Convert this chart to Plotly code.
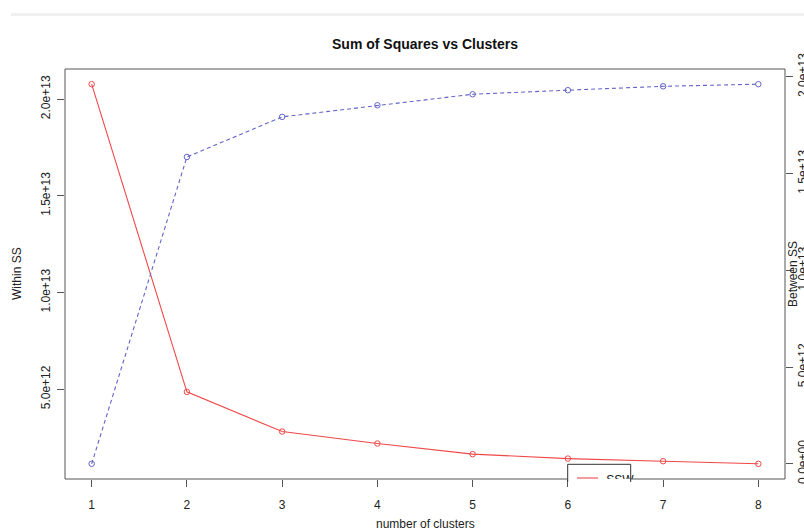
import plotly.graph_objects as go

# ---- data ----
clusters = [1, 2, 3, 4, 5, 6, 7, 8]
ssw = [2.077e13, 4.86e12, 2.81e12, 2.19e12, 1.64e12, 1.41e12, 1.275e12, 1.14e12]
ssb = [0.0, 1.586e13, 1.793e13, 1.853e13, 1.910e13, 1.931e13, 1.951e13, 1.962e13]
left_tickvals = [5e12, 1e13, 1.5e13, 2e13]
left_ticktext = ["5.0e+12", "1.0e+13", "1.5e+13", "2.0e+13"]
right_tickvals = [0, 5e12, 1e13, 1.5e13, 2e13]
right_ticktext = ["0.0e+00", "5.0e+12", "1.0e+13", "1.5e+13", "2.0e+13"]
title = "Sum of Squares vs Clusters"
xlab = "number of clusters"
ylab = "Within SS"
y2lab = "Between SS"
legend_label = "SSW"

# ---- layout geometry ----
W, H = 804, 531
L, R, T, B = 65, 19, 69, 52
PW, PH = W - L - R, H - T - B


def pad_range(vals, f=0.04):
    lo, hi = min(vals), max(vals)
    d = hi - lo
    return [lo - f * d, hi + f * d]


xr = pad_range(clusters)
yr = pad_range(ssw)
y2r = pad_range(ssb)


def px_x(px):  # pixel -> paper x
    return (px - L) / PW


def px_y(py):  # pixel -> paper y
    return (H - B - py) / PH


def data_x(px):
    return xr[0] + (px - L) / PW * (xr[1] - xr[0])


def data_y(py):
    return yr[1] - (py - T) / PH * (yr[1] - yr[0])


RED = "#f04848"
BLUE = "#6464c8"
FRAME = "#555555"
TXT = "#222222"
FONT = "Liberation Sans, Arial, sans-serif"

fig = go.Figure()
fig.add_trace(go.Scatter(
    x=clusters, y=ssw, mode="lines+markers",
    line=dict(color=RED, width=1.1),
    marker=dict(symbol="circle-open", size=5.5, color=RED, line=dict(width=1)),
    showlegend=False, yaxis="y"))
fig.add_trace(go.Scatter(
    x=clusters, y=ssb, mode="lines+markers",
    line=dict(color=BLUE, width=1.1, dash="4px,3px"),
    marker=dict(symbol="circle-open", size=5.5, color=BLUE, line=dict(width=1)),
    showlegend=False, yaxis="y2"))
# legend text (clipped by the plot region as in the original)
fig.add_trace(go.Scatter(
    x=[data_x(620)], y=[data_y(480.5)], mode="text", text=[legend_label],
    textfont=dict(family=FONT, size=12, color=TXT), cliponaxis=True,
    showlegend=False, hoverinfo="skip", yaxis="y"))

axis_common = dict(showgrid=False, zeroline=False, showline=False,
                   ticks="outside", ticklen=7, tickcolor=FRAME, tickwidth=1,
                   tickfont=dict(family=FONT, size=12, color=TXT), automargin=False)

fig.update_layout(
    width=W, height=H,
    margin=dict(l=L, r=R, t=T, b=B, pad=0),
    paper_bgcolor="white", plot_bgcolor="white",
    showlegend=False,
    xaxis=dict(range=xr, tickmode="array", tickvals=clusters,
               ticktext=[str(c) for c in clusters], ticklabelstandoff=8, **axis_common),
    yaxis=dict(range=yr, tickmode="array", tickvals=left_tickvals,
               ticktext=left_ticktext, tickangle=-90, ticklabelstandoff=2, **axis_common),
    yaxis2=dict(range=y2r, tickmode="array", tickvals=right_tickvals,
                ticktext=right_ticktext, tickangle=-90, overlaying="y",
                side="right", **axis_common),
)

shapes = []
# top grey page line
shapes.append(dict(type="line", xref="paper", yref="paper",
                   x0=px_x(11), x1=px_x(810), y0=px_y(14.5), y1=px_y(14.5),
                   line=dict(color="#f0f0f0", width=3), layer="above"))
# plot frame (bottom edge broken by the legend box)
lx0, lx1, ly0, ly1 = 567.7, 630.7, 464.3, 482
frame_line = dict(color=FRAME, width=1)
shapes += [
    dict(type="line", xref="paper", yref="paper", x0=0, x1=0, y0=0, y1=1, line=frame_line, layer="above"),
    dict(type="line", xref="paper", yref="paper", x0=1, x1=1, y0=0, y1=1, line=frame_line, layer="above"),
    dict(type="line", xref="paper", yref="paper", x0=0, x1=1, y0=1, y1=1, line=frame_line, layer="above"),
    dict(type="line", xref="paper", yref="paper", x0=0, x1=px_x(lx0), y0=0, y1=0, line=frame_line, layer="above"),
    dict(type="line", xref="paper", yref="paper", x0=px_x(lx1), x1=1, y0=0, y1=0, line=frame_line, layer="above"),
]
# legend box (clipped at the plot region)
path = "M {a},{b} L {a},{c} L {d},{c} L {d},{b}".format(
    a=px_x(lx0), b=px_y(ly1), c=px_y(ly0), d=px_x(lx1))
shapes.append(dict(type="path", xref="paper", yref="paper", path=path,
                   line=dict(color="#333333", width=1), layer="above"))
shapes.append(dict(type="line", xref="paper", yref="paper",
                   x0=px_x(577), x1=px_x(598), y0=px_y(478), y1=px_y(478),
                   line=dict(color=RED, width=1.1), layer="above"))
fig.update_layout(shapes=shapes)

annotations = [
    dict(text="<b>%s</b>" % title, xref="paper", yref="paper", x=px_x(425), y=px_y(44),
         xanchor="center", yanchor="middle", showarrow=False,
         font=dict(family=FONT, size=14, color="#111111")),
    dict(text=xlab, xref="paper", yref="paper", x=px_x(425), y=px_y(524),
         xanchor="center", yanchor="middle", showarrow=False,
         font=dict(family=FONT, size=12, color=TXT)),
    dict(text=ylab, xref="paper", yref="paper", x=px_x(17), y=px_y(274),
         xanchor="center", yanchor="middle", showarrow=False, textangle=-90,
         font=dict(family=FONT, size=12, color=TXT)),
    dict(text=y2lab, xref="paper", yref="paper", x=px_x(793), y=px_y(274),
         xanchor="center", yanchor="middle", showarrow=False, textangle=-90,
         font=dict(family=FONT, size=12, color=TXT)),
]
fig.update_layout(annotations=annotations)

fig.write_html("out.html")
